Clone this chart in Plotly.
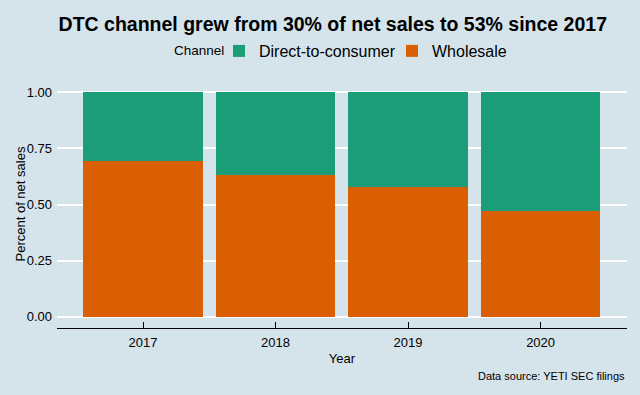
import plotly.graph_objects as go

years = ["2017", "2018", "2019", "2020"]
wholesale = [0.695, 0.632, 0.578, 0.47]
dtc = [0.305, 0.368, 0.422, 0.53]
y_ticks = [0.0, 0.25, 0.5, 0.75, 1.0]
y_tick_labels = ["0.00", "0.25", "0.50", "0.75", "1.00"]

BG = "#d5e4eb"
FONT = "Liberation Sans, Arial, sans-serif"
PW = 640 - 57 - 13
PH = 395 - 81 - 67

fig = go.Figure()
fig.add_trace(go.Bar(x=years, y=wholesale, name="Wholesale", marker_color="#d95f02",
                     marker_line_width=0, width=0.9))
fig.add_trace(go.Bar(x=years, y=dtc, name="Direct-to-consumer", marker_color="#1b9e77",
                     marker_line_width=0, width=0.9))

fig.update_layout(
    barmode="stack",
    width=640, height=395,
    paper_bgcolor=BG, plot_bgcolor=BG,
    font=dict(family=FONT, color="#000000", size=13),
    margin=dict(l=57, r=13, t=81, b=67, autoexpand=False),
    title=dict(text="<b>DTC channel grew from 30% of net sales to 53% since 2017</b>",
               x=0.52, xanchor="center", y=1 - 24 / 395, yanchor="middle",
               font=dict(size=19.5, family=FONT, color="#000000")),
    legend=dict(orientation="h", traceorder="reversed", x=(219 - 57) / PW, xanchor="left",
                y=1 + (81 - 51) / PH, yanchor="middle", entrywidth=128,
                font=dict(size=16), bgcolor="rgba(0,0,0,0)"),
    xaxis=dict(type="category", range=[-0.649, 3.652], showgrid=False,
               showline=True, linecolor="#000000", linewidth=1,
               ticks="inside", ticklen=6, tickcolor="#000000", ticklabelstandoff=2,
               tickfont=dict(size=13), title=dict(text="Year", font=dict(size=13), standoff=5),
               zeroline=False),
    yaxis=dict(range=[-0.05, 1.05], tickvals=y_ticks, ticktext=y_tick_labels,
               showgrid=True, gridcolor="#ffffff", gridwidth=2,
               showline=False, zeroline=False, ticks="", ticklabelstandoff=4,
               tickfont=dict(size=13)),
)

fig.add_annotation(text="Percent of net sales", xref="paper", yref="paper", textangle=-90,
                   x=(20 - 57) / PW, xanchor="center", y=0.5, yanchor="middle",
                   showarrow=False, font=dict(size=13, family=FONT))

fig.add_annotation(text="Channel", xref="paper", yref="paper",
                   x=(226 - 57) / PW, xanchor="right", y=1 + (81 - 51) / PH, yanchor="middle",
                   showarrow=False, font=dict(size=13.5, family=FONT))

fig.add_annotation(text="Data source: YETI SEC filings", xref="paper", yref="paper",
                   x=1.0, xanchor="right", y=-(376 - 328) / PH, yanchor="middle", showarrow=False,
                   font=dict(size=11, family=FONT))

fig.write_html("out.html", post_script="document.body.style.margin='0';",
               config={"displayModeBar": False})
